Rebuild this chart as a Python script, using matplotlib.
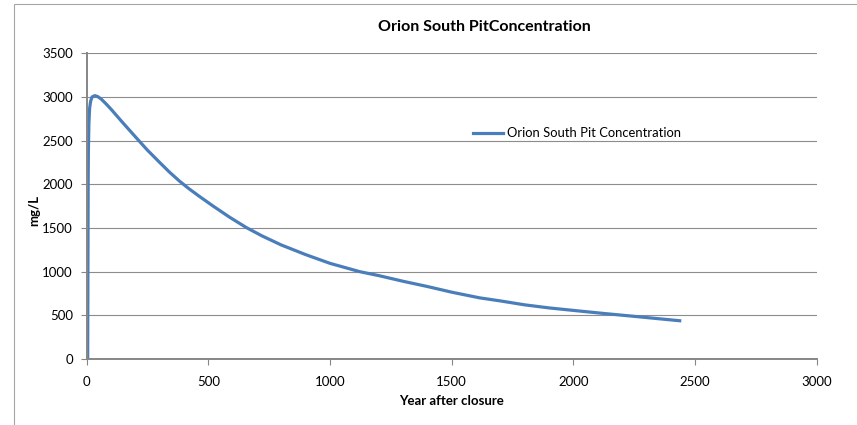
import matplotlib
matplotlib.use("Agg")
import matplotlib.pyplot as plt
from matplotlib.patches import Rectangle

plt.rcParams['font.family'] = ['Lato', 'DejaVu Sans']

years = [4, 5, 6, 7, 9, 12, 16, 22, 33, 45, 60, 80, 100, 150, 211, 250, 300,
         340, 382, 420, 464, 520, 588, 656, 720, 800, 900, 1000, 1122, 1200,
         1300, 1400, 1500, 1615, 1700, 1800, 1900, 2026, 2130, 2244, 2340, 2437]
conc = [0, 1000, 2000, 2400, 2700, 2870, 2950, 3000, 3015, 3005, 2975, 2920,
        2860, 2700, 2510, 2390, 2250, 2140, 2035, 1950, 1860, 1750, 1622, 1505,
        1410, 1305, 1195, 1095, 1000, 955, 890, 830, 765, 700, 665, 620, 585,
        549, 520, 490, 464, 438]

series_label = "Orion South Pit Concentration"
title = "Orion South PitConcentration"
xlabel = "Year after closure"
ylabel = "mg/L"
xticks = [0, 500, 1000, 1500, 2000, 2500, 3000]
yticks = [0, 500, 1000, 1500, 2000, 2500, 3000, 3500]

W, H = 857, 425
fig = plt.figure(figsize=(W / 100, H / 100), dpi=100)
fig.patch.set_facecolor('white')

# outer chart frame
fig.patches.append(Rectangle((14 / W, -0.05), 1.1, 1 - 4 / H + 0.05,
                             transform=fig.transFigure, fill=False,
                             edgecolor='#a6a6a6', linewidth=0.8))

ax = fig.add_axes([86.7 / W, (H - 359) / H, (816.7 - 86.7) / W, (359 - 53.3) / H])
ax.plot(years, conc, color='#4a7ebb', linewidth=2.3, label=series_label,
        solid_joinstyle='round')

ax.set_xlim(0, 3000)
ax.set_ylim(0, 3500)
ax.set_xticks(xticks)
ax.set_yticks(yticks)
ax.grid(axis='y', color='#8c8c8c', linewidth=0.8)
ax.set_axisbelow(True)
for s in ['top', 'right']:
    ax.spines[s].set_visible(False)
for s in ['left', 'bottom']:
    ax.spines[s].set_color('#868686')
    ax.spines[s].set_linewidth(1.4)
ax.tick_params(axis='both', colors='#868686', labelcolor='black', labelsize=9.5,
               length=4, width=0.8)
ax.tick_params(axis='x', pad=8)
ax.tick_params(axis='y', pad=6)

fig.text(484 / W, 1 - 27 / H, title, ha='center', va='center',
         fontsize=11.5, fontweight='bold')
fig.text(451.7 / W, 1 - 401 / H, xlabel, ha='center', va='center',
         fontsize=9.5, fontweight='bold')
fig.text(34 / W, 1 - 210 / H, ylabel, ha='center', va='center',
         fontsize=9.5, fontweight='bold', rotation=90)

ax.legend(loc='center left', bbox_to_anchor=(473 / W, 1 - 133.3 / H),
          bbox_transform=fig.transFigure, frameon=False, fontsize=9.4,
          borderpad=0, borderaxespad=0, handlelength=2.3, handletextpad=0.3)

fig.savefig('out.png', dpi=100)
